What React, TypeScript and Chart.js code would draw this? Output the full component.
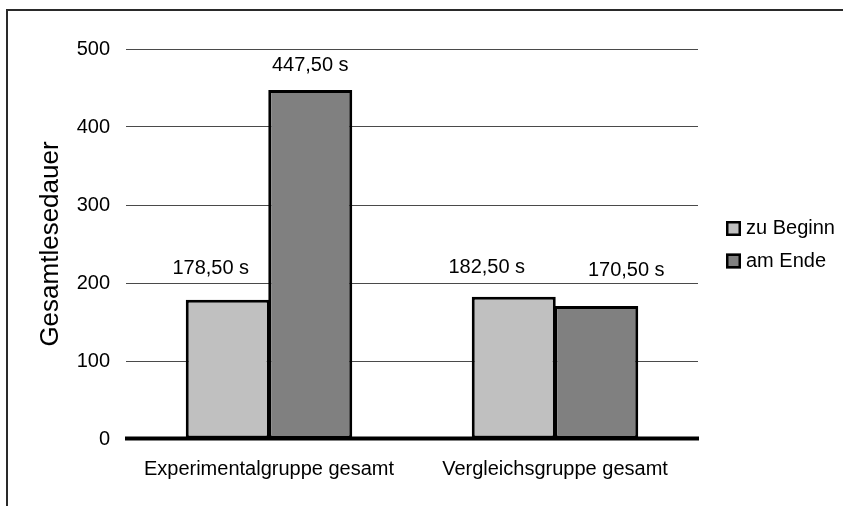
import React, { useEffect, useRef } from "react";
import { Chart, registerables } from "chart.js";

Chart.register(...registerables);

// ---- data ----
const categories = ["Experimentalgruppe gesamt", "Vergleichsgruppe gesamt"];
const seriesNames = ["zu Beginn", "am Ende"];
const zuBeginn = [178.5, 182.5];
const amEnde = [447.5, 170.5];
const yTicks = [0, 100, 200, 300, 400, 500];
const yTitle = "Gesamtlesedauer";

// ---- styles ----
const FONT = '"Liberation Sans", Arial, sans-serif';
const seriesColors = ["#c0c0c0", "#808080"];
// label nudges in px relative to the bar's top centre: [dataset][category] = [dx, dy]
const labelNudge = [
  [[-17, -31], [-27, -29]],
  [[0, -24], [30, -36]],
];

const fmt = (v: number) => v.toFixed(2).replace(".", ",") + " s";

const decorPlugin = {
  id: "decor",
  beforeDraw(chart: any) {
    const ctx = chart.ctx;
    ctx.save();
    ctx.fillStyle = "#ffffff";
    ctx.fillRect(0, 0, chart.width, chart.height);
    ctx.strokeStyle = "#2a2a2a";
    ctx.lineWidth = 2;
    ctx.strokeRect(7, 10, chart.width + 20, chart.height + 20);
    ctx.restore();
  },
  afterDatasetsDraw(chart: any) {
    const ctx = chart.ctx;
    const area = chart.chartArea;
    const y0 = chart.scales.y.getPixelForValue(0);
    ctx.save();
    // thick zero line
    ctx.strokeStyle = "#000000";
    ctx.lineWidth = 4;
    ctx.beginPath();
    ctx.moveTo(area.left - 1, y0 - 0.5);
    ctx.lineTo(area.right + 1, y0 - 0.5);
    ctx.stroke();
    // value labels
    ctx.fillStyle = "#000000";
    ctx.font = `20px ${FONT}`;
    ctx.textAlign = "center";
    ctx.textBaseline = "middle";
    chart.data.datasets.forEach((ds: any, di: number) => {
      const meta = chart.getDatasetMeta(di);
      meta.data.forEach((bar: any, i: number) => {
        const [dx, dy] = labelNudge[di][i];
        ctx.fillText(fmt(ds.data[i]), bar.x + dx, bar.y + dy);
      });
    });
    ctx.restore();
  },
  afterDraw(chart: any) {
    // legend
    const ctx = chart.ctx;
    ctx.save();
    chart.data.datasets.forEach((ds: any, di: number) => {
      const bx = 726;
      const by = 221 + di * 32.5;
      ctx.fillStyle = ds.backgroundColor;
      ctx.fillRect(bx, by, 15, 15);
      ctx.strokeStyle = "#000000";
      ctx.lineWidth = 2.5;
      ctx.strokeRect(bx + 1.25, by + 1.25, 12.5, 12.5);
      ctx.fillStyle = "#000000";
      ctx.font = `20px ${FONT}`;
      ctx.textAlign = "left";
      ctx.textBaseline = "middle";
      ctx.fillText(ds.label, 746, by + 7.5);
    });
    ctx.restore();
  },
};

export default function App() {
  const ref = useRef<HTMLCanvasElement | null>(null);

  useEffect(() => {
    if (!ref.current) return;
    const chart = new Chart(ref.current, {
      type: "bar",
      data: {
        labels: categories,
        datasets: [
          {
            label: seriesNames[0],
            data: zuBeginn,
            backgroundColor: seriesColors[0],
            borderColor: "#000000",
            borderWidth: 3,
            borderSkipped: false,
          },
          {
            label: seriesNames[1],
            data: amEnde,
            backgroundColor: seriesColors[1],
            borderColor: "#000000",
            borderWidth: 3,
            borderSkipped: false,
          },
        ],
      },
      options: {
        responsive: false,
        animation: false,
        devicePixelRatio: 1,
        layout: { padding: { left: 35, top: 49, right: 145, bottom: 0 } },
        datasets: {
          bar: { categoryPercentage: 0.577, barPercentage: 1.018 },
        },
        plugins: {
          legend: { display: false },
          tooltip: { enabled: false },
        },
        scales: {
          x: {
            grid: { display: false, drawTicks: false },
            border: { display: false },
            ticks: {
              color: "#000000",
              font: { family: FONT, size: 20 },
              padding: 18,
              maxRotation: 0,
            },
            afterFit: (s: any) => {
              s.height = 67;
            },
          },
          y: {
            min: 0,
            max: 500,
            afterBuildTicks: (s: any) => {
              s.ticks = yTicks.map((v) => ({ value: v }));
            },
            grid: {
              drawTicks: false,
              color: (c: any) => (c.tick && c.tick.value === 0 ? "rgba(0,0,0,0)" : "#4a4a4a"),
              lineWidth: 1,
            },
            border: { display: false },
            ticks: {
              color: "#000000",
              font: { family: FONT, size: 20 },
              padding: 16,
            },
            title: {
              display: true,
              text: yTitle,
              color: "#000000",
              font: { family: FONT, size: 26 },
              padding: 0,
            },
            afterFit: (s: any) => {
              s.width = 91;
            },
          },
        },
      },
      plugins: [decorPlugin],
    });
    return () => chart.destroy();
  }, []);

  return (
    <div style={{ position: "fixed", left: 0, top: 0, width: 843, height: 506 }}>
      <canvas ref={ref} width={843} height={506} />
    </div>
  );
}
